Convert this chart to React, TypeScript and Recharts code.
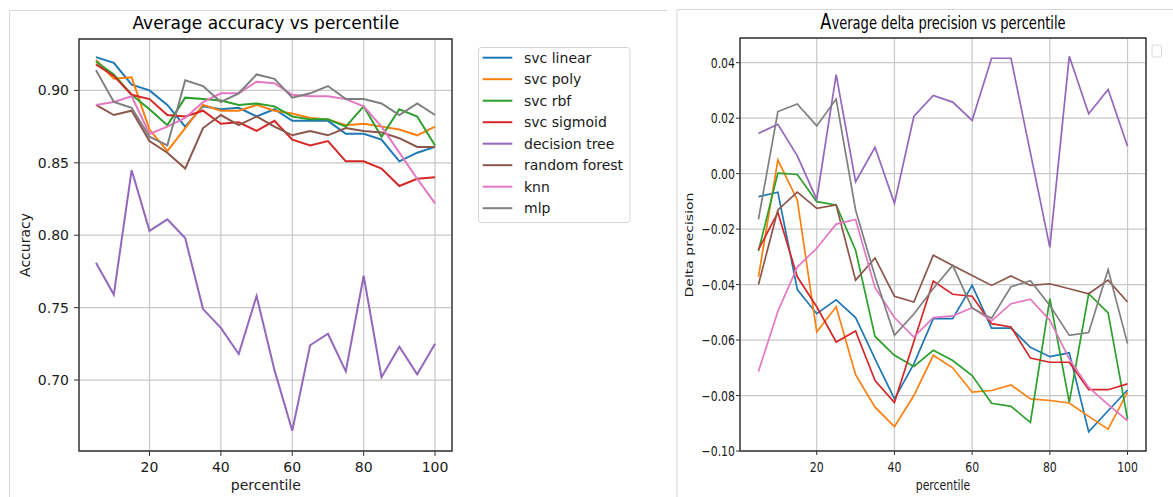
import React from 'react';
import { LineChart, Line, XAxis, YAxis, CartesianGrid, ReferenceArea } from 'recharts';

const percentiles = [5, 10, 15, 20, 25, 30, 35, 40, 45, 50, 55, 60, 65, 70, 75, 80, 85, 90, 95, 100];

const seriesNames = ['svc linear', 'svc poly', 'svc rbf', 'svc sigmoid', 'decision tree', 'random forest', 'knn', 'mlp'];
const seriesColors = ['#1f77b4', '#ff7f0e', '#2ca02c', '#d62728', '#9467bd', '#8c564b', '#e377c2', '#7f7f7f'];

// Average accuracy
const accSvcLinear = [0.923, 0.919, 0.904, 0.900, 0.890, 0.875, 0.889, 0.887, 0.888, 0.882, 0.887, 0.879, 0.879, 0.879, 0.870, 0.870, 0.866, 0.851, 0.857, 0.861];
const accSvcPoly = [0.921, 0.908, 0.909, 0.873, 0.858, 0.874, 0.890, 0.886, 0.886, 0.890, 0.886, 0.884, 0.881, 0.880, 0.876, 0.877, 0.875, 0.873, 0.869, 0.875];
const accSvcRbf = [0.920, 0.911, 0.897, 0.887, 0.876, 0.895, 0.894, 0.893, 0.890, 0.891, 0.889, 0.882, 0.880, 0.880, 0.875, 0.889, 0.868, 0.887, 0.882, 0.862];
const accSvcSigmoid = [0.918, 0.910, 0.897, 0.894, 0.883, 0.882, 0.886, 0.877, 0.878, 0.872, 0.879, 0.866, 0.862, 0.865, 0.851, 0.851, 0.846, 0.834, 0.839, 0.840];
const accDecisionTree = [0.781, 0.759, 0.845, 0.803, 0.811, 0.798, 0.749, 0.736, 0.718, 0.758, 0.707, 0.665, 0.724, 0.732, 0.706, 0.772, 0.702, 0.723, 0.704, 0.725];
const accRandomForest = [0.890, 0.883, 0.886, 0.865, 0.857, 0.846, 0.874, 0.883, 0.876, 0.882, 0.875, 0.869, 0.872, 0.869, 0.874, 0.872, 0.871, 0.867, 0.861, 0.861];
const accKnn = [0.890, 0.892, 0.896, 0.870, 0.875, 0.881, 0.892, 0.898, 0.898, 0.906, 0.905, 0.897, 0.896, 0.896, 0.894, 0.889, 0.875, 0.857, 0.839, 0.822];
const accMlp = [0.914, 0.892, 0.888, 0.868, 0.862, 0.907, 0.903, 0.892, 0.898, 0.911, 0.908, 0.895, 0.898, 0.903, 0.894, 0.894, 0.891, 0.883, 0.891, 0.883];

// Average delta precision
const dpSvcLinear = [-0.0083, -0.0067, -0.0418, -0.0505, -0.0455, -0.0519, -0.0668, -0.0812, -0.0686, -0.0523, -0.0523, -0.0403, -0.0557, -0.0557, -0.0626, -0.066, -0.0646, -0.0931, -0.0855, -0.078];
const dpSvcPoly = [-0.0372, 0.0049, -0.0095, -0.0571, -0.048, -0.0725, -0.0842, -0.0912, -0.08, -0.0655, -0.07, -0.0788, -0.0782, -0.0762, -0.0812, -0.0818, -0.0827, -0.0875, -0.0921, -0.0788];
const dpSvcRbf = [-0.0279, 0.0002, -0.0003, -0.0101, -0.0113, -0.0276, -0.0587, -0.0655, -0.0695, -0.0637, -0.0674, -0.0728, -0.0828, -0.0839, -0.0897, -0.0451, -0.0825, -0.0433, -0.0502, -0.0885];
const dpSvcSigmoid = [-0.0274, -0.014, -0.0372, -0.048, -0.0607, -0.0567, -0.0746, -0.0825, -0.0605, -0.0387, -0.0435, -0.0442, -0.0541, -0.0553, -0.0665, -0.068, -0.068, -0.0779, -0.0779, -0.0758];
const dpDecisionTree = [0.0145, 0.0178, 0.0064, -0.0093, 0.0357, -0.0029, 0.0095, -0.0107, 0.0206, 0.0282, 0.0258, 0.0192, 0.0416, 0.0416, 0.0075, -0.0266, 0.0423, 0.0216, 0.0303, 0.0099];
const dpRandomForest = [-0.04, -0.0131, -0.0067, -0.0125, -0.0113, -0.0384, -0.0304, -0.0442, -0.0463, -0.0294, -0.0331, -0.0367, -0.0403, -0.0369, -0.0403, -0.0397, -0.0415, -0.0433, -0.0384, -0.0463];
const dpKnn = [-0.0713, -0.0496, -0.0337, -0.0269, -0.0182, -0.0165, -0.0411, -0.0519, -0.0589, -0.0519, -0.0513, -0.0483, -0.0531, -0.0469, -0.0453, -0.0529, -0.0668, -0.0771, -0.0833, -0.0891];
const dpMlp = [-0.0165, 0.0224, 0.0251, 0.0172, 0.0269, -0.0131, -0.037, -0.0583, -0.0506, -0.0414, -0.0331, -0.0485, -0.0521, -0.0408, -0.0386, -0.0475, -0.0583, -0.0573, -0.0346, -0.0613];

const xTicks = [20, 40, 60, 80, 100];
const accTicks = [0.70, 0.75, 0.80, 0.85, 0.90];
const dpTicks = [-0.10, -0.08, -0.06, -0.04, -0.02, 0.0, 0.02, 0.04];

const accSeries = [accSvcLinear, accSvcPoly, accSvcRbf, accSvcSigmoid, accDecisionTree, accRandomForest, accKnn, accMlp];
const dpSeries = [dpSvcLinear, dpSvcPoly, dpSvcRbf, dpSvcSigmoid, dpDecisionTree, dpRandomForest, dpKnn, dpMlp];
const keys = seriesNames.map((_, i) => 's' + i);

const buildRows = (series: number[][]) =>
  percentiles.map((p, i) => {
    const row: any = { p };
    series.forEach((arr, k) => {
      row[keys[k]] = arr[i];
    });
    return row;
  });

const accData = buildRows(accSeries);
const dpData = buildRows(dpSeries);

const FONT = 'DejaVu Sans';
const TXT = '#1a1a1a';
const SQ = 0.78;
const X_DOMAIN: [number, number] = [0.25, 104.75];
const ACC_DOMAIN: [number, number] = [0.651, 0.9355];
const DP_DOMAIN: [number, number] = [-0.1, 0.0489];

const fmtDp = (v: number) => {
  const s = Math.abs(v).toFixed(2);
  return v < -1e-9 ? '\u2212' + s : s;
};

const SquashXTick = (props: any) => (
  <g transform={`translate(${props.x},${props.y}) scale(${SQ},1)`}>
    <text x={0} y={0} dy="0.71em" textAnchor="middle" fontSize={14} fontFamily={FONT} fill={TXT}>
      {props.payload.value}
    </text>
  </g>
);

const SquashYTick = (props: any) => (
  <g transform={`translate(${props.x},${props.y}) scale(${SQ},1)`}>
    <text x={0} y={0} dy="0.36em" textAnchor="end" fontSize={14} fontFamily={FONT} fill={TXT}>
      {fmtDp(props.payload.value)}
    </text>
  </g>
);

export default function App() {
  return (
    <div style={{ position: 'absolute', left: 0, top: 0, width: 1173, height: 497, background: '#fff', overflow: 'hidden' }}>
      <div style={{ position: 'absolute', left: 0, top: 0 }}>
        <LineChart width={460} height={497} data={accData} margin={{ top: 39, right: 8, bottom: 0, left: 0 }}>
          <CartesianGrid stroke="#c8c8c8" strokeWidth={1.2} />
          <XAxis
            dataKey="p"
            type="number"
            domain={X_DOMAIN}
            ticks={xTicks}
            interval={0}
            allowDataOverflow
            axisLine={false}
            tickLine={{ stroke: '#333' }}
            tickSize={5}
            tickMargin={6}
            height={46}
            tick={{ fontSize: 14, fill: TXT, fontFamily: FONT }}
          />
          <YAxis
            type="number"
            domain={ACC_DOMAIN}
            ticks={accTicks}
            interval={0}
            allowDataOverflow
            axisLine={false}
            tickLine={{ stroke: '#333' }}
            tickSize={5}
            tickMargin={5}
            width={79}
            tickFormatter={(v: number) => v.toFixed(2)}
            tick={{ fontSize: 14, fill: TXT, fontFamily: FONT }}
          />
          {keys.map((k, i) => (
            <Line key={k} type="linear" dataKey={k} stroke={seriesColors[i]} strokeWidth={2} dot={false} activeDot={false} isAnimationActive={false} />
          ))}
          <ReferenceArea x1={X_DOMAIN[0]} x2={X_DOMAIN[1]} y1={ACC_DOMAIN[0]} y2={ACC_DOMAIN[1]} fill="none" fillOpacity={0} stroke="#333" strokeWidth={1.4} ifOverflow="visible" />
        </LineChart>
      </div>
      <div style={{ position: 'absolute', left: 670, top: 0 }}>
        <LineChart width={503} height={497} data={dpData} margin={{ top: 38, right: 27, bottom: 0, left: 0 }}>
          <CartesianGrid stroke="#c8c8c8" strokeWidth={1.2} />
          <XAxis
            dataKey="p"
            type="number"
            domain={X_DOMAIN}
            ticks={xTicks}
            interval={0}
            allowDataOverflow
            axisLine={false}
            tickLine={{ stroke: '#333' }}
            tickSize={4}
            tickMargin={7}
            height={46}
            tick={SquashXTick}
          />
          <YAxis
            type="number"
            domain={DP_DOMAIN}
            ticks={dpTicks}
            interval={0}
            allowDataOverflow
            axisLine={false}
            tickLine={{ stroke: '#333' }}
            tickSize={4}
            tickMargin={1}
            width={70}
            tick={SquashYTick}
          />
          {keys.map((k, i) => (
            <Line key={k} type="linear" dataKey={k} stroke={seriesColors[i]} strokeWidth={1.7} dot={false} activeDot={false} isAnimationActive={false} />
          ))}
          <ReferenceArea x1={X_DOMAIN[0]} x2={X_DOMAIN[1]} y1={DP_DOMAIN[0]} y2={DP_DOMAIN[1]} fill="none" fillOpacity={0} stroke="#333" strokeWidth={1.4} ifOverflow="visible" />
        </LineChart>
      </div>
      <svg width={1173} height={497} style={{ position: 'absolute', left: 0, top: 0, pointerEvents: 'none' }} fontFamily={FONT}>
        {/* panel borders */}
        <line x1={9.5} y1={10.5} x2={667} y2={10.5} stroke="#d6d6d6" strokeWidth={1} />
        <line x1={9.5} y1={10.5} x2={9.5} y2={497} stroke="#d6d6d6" strokeWidth={1} />
        <line x1={677} y1={9.5} x2={1173} y2={9.5} stroke="#d6d6d6" strokeWidth={1} />
        <line x1={677} y1={9.5} x2={677} y2={497} stroke="#d6d6d6" strokeWidth={1} />

        {/* left texts */}
        <text x={265.8} y={28.5} textAnchor="middle" fontSize={17} fill="#000">Average accuracy vs percentile</text>
        <text x={265.8} y={490} textAnchor="middle" fontSize={14} fill={TXT}>percentile</text>
        <g transform="translate(25,245) rotate(-90)">
          <text x={0} y={0} dy="0.35em" textAnchor="middle" fontSize={14} fill={TXT}>Accuracy</text>
        </g>

        {/* left legend */}
        <rect x={478.5} y={47.5} width={151.5} height={175} rx={3} ry={3} fill="#fff" stroke="#d4d4d4" strokeWidth={1} />
        {seriesNames.map((name, i) => {
          const cy = 57.7 + i * 21.5;
          return (
            <g key={name}>
              <line x1={482.7} x2={512.3} y1={cy} y2={cy} stroke={seriesColors[i]} strokeWidth={2} />
              <text x={524} y={cy} dy="0.36em" fontSize={14} fill={TXT}>{name}</text>
            </g>
          );
        })}

        {/* right texts */}
        <g transform={`translate(943,28.5) scale(0.77,1)`}>
          <text x={0} y={0} textAnchor="middle" fontSize={17} fill="#000">
            <tspan fontSize={21}>A</tspan>
            <tspan>verage delta precision vs percentile</tspan>
          </text>
        </g>
        <g transform={`translate(943,490) scale(${SQ},1)`}>
          <text x={0} y={0} textAnchor="middle" fontSize={14} fill={TXT}>percentile</text>
        </g>
        <g transform={`translate(688.7,245) scale(${SQ},1) rotate(-90)`}>
          <text x={0} y={0} dy="0.35em" textAnchor="middle" fontSize={14} fill={TXT}>Delta precision</text>
        </g>
        <rect x={1152} y={45} width={9.5} height={12} rx={2} ry={2} fill="#fff" stroke="#d8d8d8" strokeWidth={1} />
      </svg>
    </div>
  );
}
